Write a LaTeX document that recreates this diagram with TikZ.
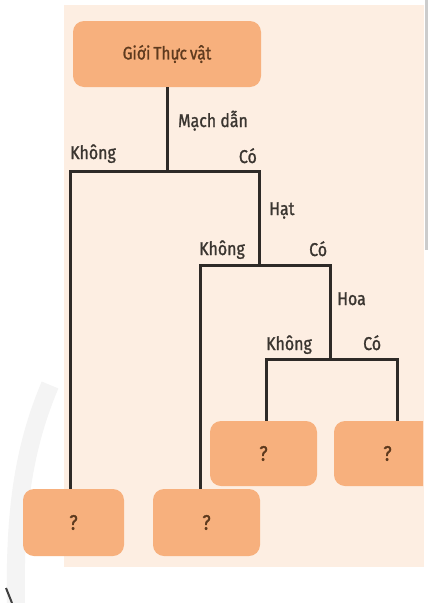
\documentclass[tikz,border=0pt]{standalone}
\usepackage{fontspec}
\setmainfont{Fira Sans}[FakeStretch=0.86,FakeBold=1.2]
\begin{document}
\begin{tikzpicture}[x=1pt,y=-1pt,
  leaf/.style={rounded corners=11pt,fill=boxc,minimum width=#1,minimum height=66pt,inner sep=0pt,font=\fontsize{21}{21}\selectfont,text=qcol},
  lbl/.style={anchor=base west,inner sep=0pt,font=\fontsize{18.5}{18.5}\selectfont,text=lblc},
  lblr/.style={anchor=base east,inner sep=0pt,font=\fontsize{18.5}{18.5}\selectfont,text=lblc},
  tree/.style={draw=linec,line width=3pt,line join=miter}]
\definecolor{peach}{HTML}{FDEEE2}
\definecolor{boxc}{HTML}{F7B07D}
\definecolor{qcol}{HTML}{5E3A1E}
\definecolor{lblc}{HTML}{3A3530}
\definecolor{linec}{HTML}{2E2A27}
\useasboundingbox (0,0) rectangle (429,603);
\fill[white] (0,0) rectangle (429,603);
\fill[peach] (64,5) rectangle (424,567);
\fill[gray!40] (425,0) rectangle (428,250);
\draw[gray!9,line width=18pt] (16,603) .. controls (14,500) and (27,440) .. (50,385);
\draw[black!75,line width=2pt] (6,588) -- (12,603);
% nodes
\node[leaf=188pt,font=\fontsize{18}{18}\selectfont] (root) at (167,54) {Giới\hspace{3pt}Thực\hspace{3pt}vật};
\node[leaf=101pt,minimum height=67pt] (b1) at (73.5,522.5) {?};
\node[leaf=107pt,minimum height=67pt] (b2) at (206.5,522.5) {?};
\node[leaf=107pt,minimum height=65pt] (b3) at (263.5,453.5) {?};
\begin{scope}
\clip (300,380) rectangle (423,500);
\node[leaf=107pt,minimum height=65pt] (b4) at (387.5,453.5) {?};
\end{scope}
% junction coordinates
\coordinate (j1) at (167,171);
\coordinate (l1) at (70,171);
\coordinate (r1) at (259,171);
\coordinate (j2) at (259,265);
\coordinate (l2) at (200,265);
\coordinate (r2) at (330,265);
\coordinate (j3) at (330,359);
\coordinate (l3) at (266,359);
\coordinate (r3) at (397,359);
% connectors
\draw[tree] (root.south) -- (j1);
\draw[tree] (l1 |- b1.north) -- (l1) -- (r1) -- (j2);
\draw[tree] (l2 |- b2.north) -- (l2) -- (r2) -- (j3);
\draw[tree] (l3 |- b3.north) -- (l3) -- (r3) -- (r3 |- b4.north);
% labels
\node[lbl] (t1) at (178,127) {Mạch dẫn};
\node[lbl] (t2) at (70,159) {Không};
\node[lblr] (t3) at (257,163) {Có};
\node[lbl] (t4) at (269,215) {Hạt};
\node[lbl] (t5) at (199,255) {Không};
\node[lbl] (t6) at (309,256) {Có};
\node[lbl] (t7) at (337,305) {Hoa};
\node[lbl] (t8) at (266,350) {Không};
\node[lbl] (t9) at (363,350) {Có};
\end{tikzpicture}
\end{document}
